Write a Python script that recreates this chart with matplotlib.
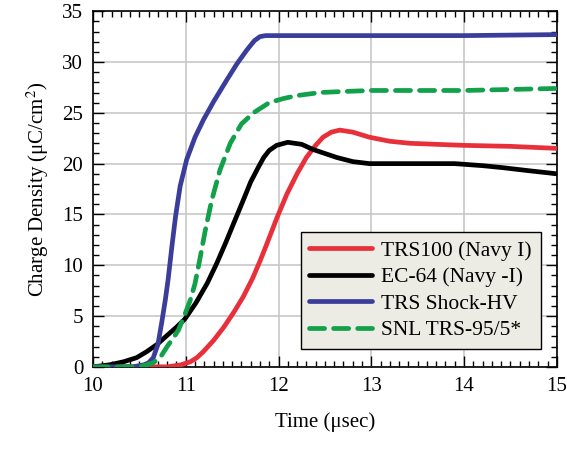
import matplotlib.pyplot as plt
from matplotlib.ticker import MultipleLocator

plt.rcParams['font.family'] = ['Liberation Serif', 'DejaVu Serif']
plt.rcParams['mathtext.fontset'] = 'stix'

# TRS100 (Navy I)
trs100_t = [10.0, 10.8, 10.95, 11.05, 11.12, 11.19, 11.3, 11.41, 11.52, 11.62, 11.72, 11.8, 11.87, 11.98,
            12.09, 12.2, 12.3, 12.4, 12.48, 12.57, 12.66, 12.8, 12.98, 13.2, 13.42, 13.7, 13.99, 14.5, 15.0]
trs100_q = [0.0, 0.0, 0.2, 0.5, 0.9, 1.5, 2.6, 3.9, 5.4, 6.9, 8.7, 10.4, 12.0, 14.6,
            17.0, 19.0, 20.6, 21.8, 22.6, 23.1, 23.3, 23.1, 22.6, 22.2, 22.0, 21.9, 21.8, 21.7, 21.5]

# EC-64 (Navy -I)
ec64_t = [10.0, 10.18, 10.33, 10.47, 10.58, 10.69, 10.8, 10.9, 10.99, 11.11, 11.23, 11.33, 11.43,
          11.52, 11.62, 11.7, 11.78, 11.84, 11.9, 11.98, 12.1, 12.25, 12.37, 12.5, 12.63, 12.8,
          12.98, 13.5, 13.9, 14.2, 14.42, 14.7, 15.0]
ec64_q = [0.0, 0.2, 0.5, 0.9, 1.5, 2.2, 3.1, 3.9, 4.7, 6.3, 8.2, 10.1, 12.2,
          14.2, 16.4, 18.2, 19.6, 20.6, 21.3, 21.8, 22.1, 21.9, 21.4, 21.0, 20.6, 20.2,
          20.0, 20.0, 20.0, 19.8, 19.6, 19.3, 19.0]

# TRS Shock-HV
shock_t = [10.0, 10.43, 10.55, 10.6, 10.65, 10.7, 10.74, 10.78, 10.81, 10.85, 10.89, 10.94, 11.01,
           11.1, 11.19, 11.3, 11.44, 11.55, 11.66, 11.74, 11.8, 11.86, 11.95, 12.5, 13.0, 14.0, 15.0]
shock_q = [0.0, 0.0, 0.2, 0.4, 0.9, 2.2, 4.3, 6.6, 8.6, 11.8, 14.8, 17.8, 20.4,
           22.6, 24.3, 26.1, 28.2, 29.8, 31.2, 32.1, 32.5, 32.6, 32.6, 32.6, 32.6, 32.6, 32.7]

# SNL TRS-95/5*
snl_t = [10.0, 10.5, 10.58, 10.65, 10.73, 10.8, 10.87, 10.92, 10.98, 11.05, 11.1, 11.15, 11.21,
         11.28, 11.37, 11.48, 11.6, 11.73, 11.9, 12.05, 12.2, 12.45, 12.7, 13.0, 14.0, 14.5, 15.0]
snl_q = [0.0, 0.0, 0.2, 0.4, 1.0, 2.0, 2.9, 3.6, 4.9, 6.6, 8.2, 10.5, 13.4,
         16.4, 19.4, 22.0, 23.9, 25.0, 26.0, 26.4, 26.7, 27.0, 27.1, 27.2, 27.2, 27.3, 27.4]

fig = plt.figure(figsize=(5.67, 4.49), dpi=100)
ax = fig.add_axes([0.164, 0.183, 0.818, 0.792])

lw = 3.4
ax.plot(trs100_t, trs100_q, color='#E8303A', lw=lw, solid_capstyle='round', solid_joinstyle='round',
        label='TRS100 (Navy I)', zorder=3)
ax.plot(ec64_t, ec64_q, color='black', lw=lw, solid_capstyle='round', solid_joinstyle='round',
        label='EC-64 (Navy -I)', zorder=4)
ax.plot(shock_t, shock_q, color='#3A3D9A', lw=lw, solid_capstyle='round', solid_joinstyle='round',
        label='TRS Shock-HV', zorder=5)
ax.plot(snl_t, snl_q, color='#12A04A', lw=lw, dashes=(3.2, 1.9), dash_capstyle='round',
        dash_joinstyle='round', label='SNL TRS-95/5*', zorder=6)

ax.set_xlim(10, 15)
ax.set_ylim(0, 35)
ax.xaxis.set_major_locator(MultipleLocator(1))
ax.xaxis.set_minor_locator(MultipleLocator(0.1))
ax.yaxis.set_major_locator(MultipleLocator(5))
ax.yaxis.set_minor_locator(MultipleLocator(1))
ax.tick_params(which='both', direction='in', top=True, right=True, labelsize=15, width=1)
ax.tick_params(which='major', length=8, pad=7)
ax.tick_params(which='minor', length=4)
ax.grid(True, which='major', color='#C8C8C8', lw=1.2)
ax.set_axisbelow(True)
for s in ax.spines.values():
    s.set_linewidth(1.2)

ax.set_xlabel('Time (\u03bcsec)', fontsize=15, labelpad=12)
ax.set_ylabel('Charge Density (\u03bcC/cm$^2$)', fontsize=15, labelpad=8)

leg = ax.legend(loc='lower right', bbox_to_anchor=(0.965, 0.05), fontsize=15.5, frameon=True,
                fancybox=False, handlelength=2.9, handletextpad=0.45, labelspacing=0.3,
                borderpad=0.4, borderaxespad=0)
leg.get_frame().set_facecolor('#ECECE4')
leg.get_frame().set_edgecolor('black')
leg.get_frame().set_linewidth(1.0)
leg.get_frame().set_alpha(1)

fig.savefig('out.png', dpi=100)
